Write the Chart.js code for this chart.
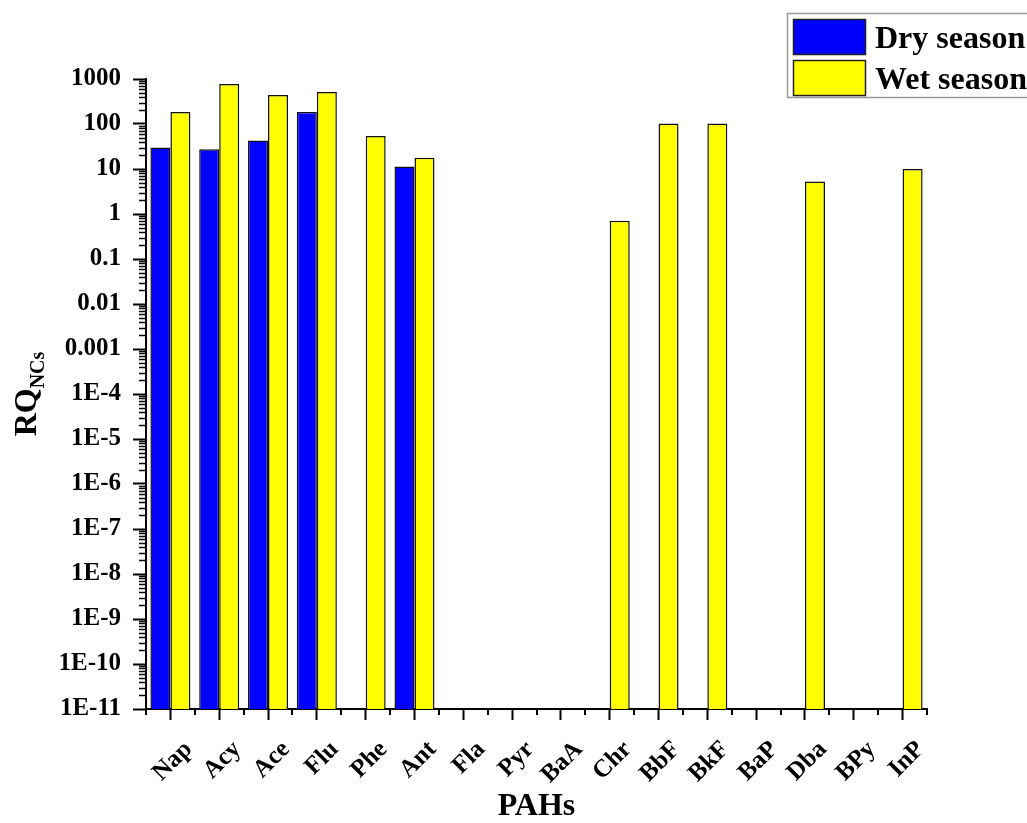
<!DOCTYPE html>
<html>
<head>
<meta charset="utf-8">
<script src="https://cdn.jsdelivr.net/npm/chart.js@4/dist/chart.umd.min.js"></script>
<style>
html, body { margin: 0; padding: 0; background: #fff; }
canvas { display: block; }
</style>
</head>
<body>
<canvas id="c" width="1027" height="823"></canvas>
<script>
const categories = ['Nap','Acy','Ace','Flu','Phe','Ant','Fla','Pyr','BaA','Chr','BbF','BkF','BaP','Dba','BPy','InP'];
const drySeason = [30, 27.5, 43, 184, null, 11.3, null, null, null, null, null, null, null, null, null, null];
const wetSeason = [184, 774, 440, 513, 54, 17.7, null, null, null, 0.71, 103, 103, null, 5.25, null, 10];
const seriesNames = ['Dry season', 'Wet season'];
const yTickValues = [1e-11, 1e-10, 1e-9, 1e-8, 1e-7, 1e-6, 1e-5, 1e-4, 1e-3, 1e-2, 1e-1, 1, 10, 100, 1000];
const yTickLabels = ['1E-11','1E-10','1E-9','1E-8','1E-7','1E-6','1E-5','1E-4','0.001','0.01','0.1','1','10','100','1000'];
const xTitle = 'PAHs';
const yTitleMain = 'RQ';
const yTitleSub = 'NCs';

const FONT = '"Liberation Serif", "Times New Roman", serif';
const colors = ['#0000FF', '#FFFF00'];

const extras = {
  id: 'extras',
  afterDraw(chart) {
    const ctx = chart.ctx;
    const x = chart.scales.x, y = chart.scales.y;
    const area = chart.chartArea;
    ctx.save();
    ctx.strokeStyle = '#000';
    ctx.lineWidth = 1.5;
    // y minor ticks
    for (let d = -11; d < 3; d++) {
      for (let m = 2; m <= 9; m++) {
        const py = Math.round(y.getPixelForValue(m * Math.pow(10, d))) + 0.5;
        ctx.beginPath();
        ctx.moveTo(area.left - 7, py);
        ctx.lineTo(area.left, py);
        ctx.stroke();
      }
    }
    // x minor ticks at category boundaries
    ctx.lineWidth = 2;
    for (let i = 0; i <= categories.length; i++) {
      let px;
      if (i === 0) px = area.left;
      else if (i === categories.length) px = area.right;
      else px = (x.getPixelForValue(i - 1) + x.getPixelForValue(i)) / 2;
      px = Math.round(px);
      ctx.beginPath();
      ctx.moveTo(px, area.bottom);
      ctx.lineTo(px, area.bottom + 6);
      ctx.stroke();
    }
    // y title with subscript
    ctx.fillStyle = '#000';
    ctx.textBaseline = 'alphabetic';
    ctx.font = 'bold 32px ' + FONT;
    const w1 = ctx.measureText(yTitleMain).width;
    ctx.font = 'bold 20px ' + FONT;
    const w2 = ctx.measureText(yTitleSub).width;
    const total = w1 + w2;
    const cy = (area.top + area.bottom) / 2;
    ctx.translate(36, cy + total / 2);
    ctx.rotate(-Math.PI / 2);
    ctx.font = 'bold 32px ' + FONT;
    ctx.fillText(yTitleMain, 0, 0);
    ctx.font = 'bold 20px ' + FONT;
    ctx.fillText(yTitleSub, w1, 8);
    ctx.restore();

    // legend
    ctx.save();
    ctx.strokeStyle = '#999';
    ctx.lineWidth = 1.5;
    ctx.fillStyle = '#fff';
    ctx.fillRect(787, 13, 260, 84);
    ctx.strokeRect(787.5, 13.5, 260, 84);
    const rows = [19, 60];
    for (let i = 0; i < 2; i++) {
      ctx.fillStyle = colors[i];
      ctx.fillRect(793, rows[i], 73, 36);
      ctx.strokeStyle = '#222';
      ctx.lineWidth = 1.5;
      ctx.strokeRect(793.5, rows[i] + 0.5, 72, 35);
      ctx.fillStyle = '#000';
      ctx.font = 'bold 32px ' + FONT;
      ctx.textBaseline = 'alphabetic';
      ctx.fillText(seriesNames[i], 875, rows[i] + 29);
    }
    ctx.restore();
  }
};

new Chart(document.getElementById('c'), {
  type: 'bar',
  data: {
    labels: categories,
    datasets: [
      { label: seriesNames[0], data: drySeason, backgroundColor: colors[0], borderColor: '#111', borderWidth: 1.5 },
      { label: seriesNames[1], data: wetSeason, backgroundColor: colors[1], borderColor: '#111', borderWidth: 1.5 }
    ]
  },
  options: {
    responsive: false,
    animation: false,
    devicePixelRatio: 1,
    categoryPercentage: 0.82,
    barPercentage: 1.0,
    layout: { padding: { top: 79, right: 100, left: 0, bottom: 0 } },
    plugins: { legend: { display: false }, tooltip: { enabled: false } },
    scales: {
      x: {
        afterFit(scale) { scale.height = 114; },
        grid: { display: true, drawOnChartArea: false, drawTicks: true, offset: false, tickLength: 11, tickWidth: 2, tickColor: '#000' },
        border: { display: true, color: '#000', width: 2 },
        ticks: {
          color: '#000',
          font: { family: FONT, size: 25, weight: 'bold' },
          minRotation: 45, maxRotation: 45,
          autoSkip: false,
          padding: 15,
          labelOffset: 18
        },
        title: {
          display: true, text: xTitle, color: '#000',
          font: { family: FONT, size: 32, weight: 'bold', lineHeight: 1 },
          padding: { top: 0, bottom: 0 }
        }
      },
      y: {
        type: 'logarithmic',
        min: 1e-11,
        max: 1000,
        afterFit(scale) { scale.width = 146; },
        afterBuildTicks(scale) {
          scale.ticks = yTickValues.map(v => ({ value: v }));
        },
        grid: { display: true, drawOnChartArea: false, drawTicks: true, tickLength: 13, tickWidth: 2, tickColor: '#000' },
        border: { display: true, color: '#000', width: 2 },
        ticks: {
          color: '#000',
          font: { family: FONT, size: 25, weight: 'bold' },
          padding: 12,
          autoSkip: false,
          callback(value) {
            const idx = yTickValues.findIndex(v => Math.abs(Math.log10(v) - Math.log10(value)) < 1e-6);
            return idx >= 0 ? yTickLabels[idx] : '';
          }
        }
      }
    }
  },
  plugins: [extras]
});
</script>
</body>
</html>
